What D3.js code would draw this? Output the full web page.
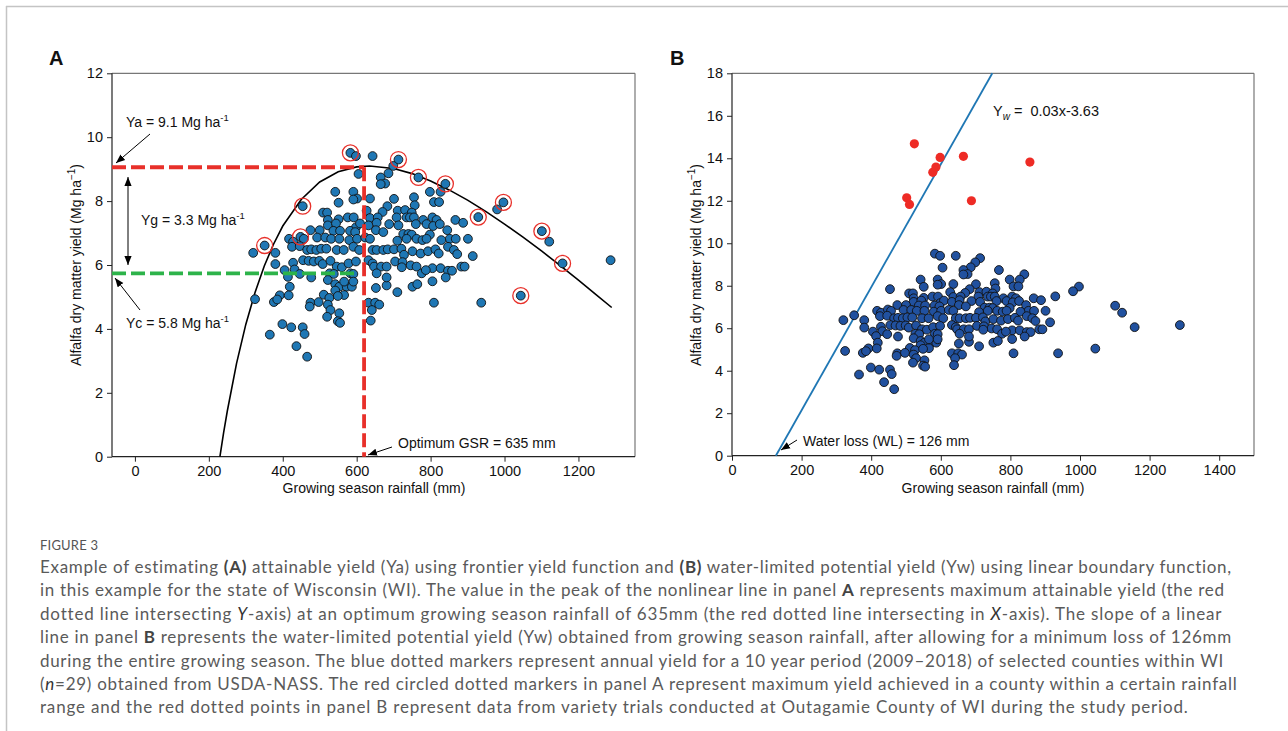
<!DOCTYPE html>
<html><head><meta charset="utf-8">
<script src="https://cdn.jsdelivr.net/npm/d3@7"></script>
<style>body{margin:0;background:#fff} svg{display:block}</style>
</head><body><svg id="c" width="1288" height="731"></svg>
<script>
// ---------- DATA ----------
const rainfall = [583,598,643,713,699,686,605,767,665,677,665,840,827,798,542,591,601,591,636,701,755,551,809,823,997,980,454,683,757,
509,520,627,670,711,731,749,522,551,576,592,636,657,708,735,744,755,780,805,816,867,888,929,522,544,598,609,632,654,688,713,760,789,807,825,845,
475,500,537,555,582,596,652,672,726,740,749,798,852,868,901,417,428,448,457,493,515,531,553,580,601,623,636,710,735,762,778,789,829,1101,1121,
351,320,380,425,446,466,477,491,504,518,546,565,591,607,643,654,672,684,701,721,728,751,773,793,813,822,847,863,872,914,
380,405,428,432,455,470,484,499,508,529,546,560,578,598,632,643,647,666,681,704,724,746,762,776,805,827,847,858,883,892,414,446,477,527,538,583,591,654,1157,1287,787,722,
419,522,542,553,573,587,542,652,681,751,764,805,841,511,710,566,566,591,681,1044,
392,416,376,385,475,497,526,522,549,632,650,661,641,809,937,473,529,553,325,
520,549,555,638,399,423,454,459,365,437,466];
const yieldObs = [9.51,9.41,9.41,9.30,9.10,8.87,8.85,8.74,8.74,8.55,8.53,8.54,8.29,8.29,8.29,8.29,8.08,8.05,8.08,8.07,8.12,7.95,7.97,7.97,7.96,7.74,7.84,7.84,7.87,
7.64,7.64,7.70,7.66,7.70,7.72,7.64,7.41,7.43,7.49,7.49,7.47,7.49,7.49,7.49,7.49,7.49,7.41,7.49,7.41,7.41,7.32,7.50,7.24,7.30,7.18,7.30,7.24,7.32,7.28,7.24,7.28,7.28,7.22,7.28,7.09,
7.09,7.09,7.07,7.07,7.07,7.03,7.09,7.03,6.97,6.97,6.95,6.95,6.82,6.82,6.82,6.82,6.73,6.88,6.82,6.86,6.86,6.82,6.82,6.78,6.82,6.86,6.82,6.76,6.82,6.82,6.78,6.82,6.78,7.06,6.73,
6.61,6.38,6.38,6.57,6.59,6.47,6.49,6.47,6.51,6.51,6.47,6.47,6.57,6.47,6.47,6.47,6.47,6.49,6.49,6.51,6.32,6.43,6.36,6.43,6.49,6.36,6.57,6.47,6.34,6.28,
6.03,5.84,6.07,5.86,6.15,6.13,6.11,6.13,6.03,6.13,5.95,5.93,6.05,6.11,6.15,6.05,5.95,5.95,5.95,6.11,6.09,5.99,5.95,5.74,5.90,5.90,5.82,5.82,5.95,5.95,5.63,5.72,5.61,5.74,5.72,5.74,5.72,5.74,6.05,6.15,5.84,5.93,
5.32,5.53,5.40,5.32,5.32,5.32,5.20,5.28,5.36,5.32,5.40,5.49,5.61,5.07,5.15,5.06,5.48,5.48,5.61,5.04,
5.05,5.05,4.84,4.92,4.82,4.84,4.97,4.76,5.03,4.82,4.82,4.76,4.59,4.82,4.82,4.70,4.59,4.49,4.93,
4.38,4.24,4.19,4.26,4.15,4.05,4.05,3.84,3.82,3.46,3.13];

// county maxima circled in panel A
const circRain  = [351,448,454,583,713,767,840,929,997,1101,1157,1044];
const circYield = [6.61,6.88,7.84,9.51,9.30,8.74,8.54,7.50,7.96,7.06,6.05,5.04];

// frontier yield curve (panel A)
const curveRain  = [230,240,250,275,300,325,350,375,400,450,500,550,600,635,700,750,800,850,900,950,1000,1050,1100,1150,1200,1250,1290];
const curveYield = [0.00,0.75,1.43,2.92,4.14,5.14,5.97,6.65,7.22,8.05,8.60,8.92,9.07,9.10,9.02,8.86,8.63,8.35,8.03,7.67,7.28,6.87,6.44,5.99,5.53,5.05,4.67];

// variety trials (panel B)
const trialRain  = [502,510,524,577,586,598,665,688,856];
const trialYield = [12.14,11.83,14.68,13.34,13.59,14.04,14.09,12.00,13.82];

// linear boundary (panel B)
const boundRain  = [126,748];
const boundYield = [0,18];

// reference values (panel A)
const Ya = 9.06, Yc = 5.74, optGSR = 620;

const xTicksA = [0,200,400,600,800,1000,1200];
const yTicksA = [0,2,4,6,8,10,12];
const xTicksB = [0,200,400,600,800,1000,1200,1400];
const yTicksB = [0,2,4,6,8,10,12,14,16,18];

// ---------- DRAW ----------
const svg = d3.select('#c');
const F = '"Liberation Sans", Arial, sans-serif';

svg.append('line').attr('x1',6).attr('x2',1288).attr('y1',6.5).attr('y2',6.5).attr('stroke','#c4c4c4').attr('stroke-width',1.5);
svg.append('line').attr('x1',6.5).attr('x2',6.5).attr('y1',6).attr('y2',731).attr('stroke','#c4c4c4').attr('stroke-width',1.5);

const defs = svg.append('defs');
defs.append('marker').attr('id','ah').attr('viewBox','0 0 10 10').attr('refX',10).attr('refY',5)
  .attr('markerWidth',9).attr('markerHeight',9).attr('markerUnits','userSpaceOnUse').attr('orient','auto-start-reverse')
  .append('path').attr('d','M0,1 L10,5 L0,9 z').attr('fill','#000');

const xA = d3.scaleLinear().domain([-62,1353]).range([112,635]);
const yA = d3.scaleLinear().domain([0,12]).range([456.7,73.3]);
const xB = d3.scaleLinear().domain([0,1500]).range([732,1254]);
const yB = d3.scaleLinear().domain([0,18]).range([455.7,73.3]);

function axes(x, y, xt, yt){
  const gx = svg.append('g').attr('transform',`translate(0,${y.range()[0]})`)
    .call(d3.axisBottom(x).tickValues(xt).tickSize(5).tickPadding(4).tickFormat(d3.format('d')));
  const gy = svg.append('g').attr('transform',`translate(${x.range()[0]},0)`)
    .call(d3.axisLeft(y).tickValues(yt).tickSize(5).tickPadding(4).tickFormat(d3.format('d')));
  [gx,gy].forEach(g=>{
    g.attr('font-size',null).attr('font-family',null);
    g.select('.domain').remove();
    g.selectAll('line').attr('stroke','#222').attr('stroke-width',1);
    g.selectAll('text').attr('font-family',F).attr('font-size',14.5).attr('fill','#111');
  });
  const [x0,x1] = x.range(), [y0,y1] = y.range();
  svg.append('line').attr('x1',x0).attr('x2',x1).attr('y1',y1).attr('y2',y1).attr('stroke','#777').attr('stroke-width',1.2);
  svg.append('line').attr('x1',x1).attr('x2',x1).attr('y1',y1).attr('y2',y0).attr('stroke','#777').attr('stroke-width',1.2);
  svg.append('line').attr('x1',x0).attr('x2',x1).attr('y1',y0).attr('y2',y0).attr('stroke','#222').attr('stroke-width',1.2);
  svg.append('line').attr('x1',x0).attr('x2',x0).attr('y1',y1).attr('y2',y0).attr('stroke','#222').attr('stroke-width',1.2);
}

function txt(x,y,str,size,opts={}){
  const t = svg.append('text').attr('x',x).attr('y',y).attr('font-family',F).attr('font-size',size).attr('fill','#111');
  if(opts.anchor) t.attr('text-anchor',opts.anchor);
  if(opts.weight) t.attr('font-weight',opts.weight);
  if(opts.rotate) t.attr('transform',`rotate(-90,${x},${y})`);
  t.text(str);
  return t;
}
function sup(t, s, size){
  t.append('tspan').attr('dy',-6).attr('font-size',size).text(s);
}
function arrow(x1,y1,x2,y2,both){
  const l = svg.append('line').attr('x1',x1).attr('y1',y1).attr('x2',x2).attr('y2',y2)
    .attr('stroke','#000').attr('stroke-width',1).attr('marker-end','url(#ah)');
  if(both) l.attr('marker-start','url(#ah)');
}
function ylab(x){
  const t = txt(x,265,'Alfalfa dry matter yield (Mg ha',14,{anchor:'middle',rotate:true});
  t.attr('dominant-baseline','central');
  t.append('tspan').attr('dy',-5).attr('font-size',10).text('−1');
  t.append('tspan').attr('dy',5).text(')');
}

// ---- Panel A ----
axes(xA,yA,xTicksA,yTicksA);
txt(49,65,'A',20,{weight:'bold'});
ylab(76);
txt(374,493,'Growing season rainfall (mm)',14,{anchor:'middle'});

const lineA = d3.line().x((d,i)=>xA(curveRain[i])).y((d,i)=>yA(curveYield[i]));
svg.append('path').attr('d',lineA(curveRain)).attr('fill','none').attr('stroke','#000').attr('stroke-width',1.6);

svg.append('g').selectAll('circle').data(rainfall).join('circle')
  .attr('cx',(d,i)=>xA(rainfall[i])).attr('cy',(d,i)=>yA(yieldObs[i])).attr('r',4.4)
  .attr('fill','#1f77b4').attr('stroke','#111').attr('stroke-width',0.9);

svg.append('g').selectAll('circle').data(circRain).join('circle')
  .attr('cx',(d,i)=>xA(circRain[i])).attr('cy',(d,i)=>yA(circYield[i])).attr('r',8)
  .attr('fill','none').attr('stroke','#e8302a').attr('stroke-width',1.3);

svg.append('line').attr('x1',xA.range()[0]).attr('x2',xA(optGSR)).attr('y1',yA(Ya)).attr('y2',yA(Ya))
  .attr('stroke','#e8302a').attr('stroke-width',3.8).attr('stroke-dasharray','14,5');
svg.append('line').attr('x1',xA(optGSR)).attr('x2',xA(optGSR)).attr('y1',yA(Ya)).attr('y2',yA(0))
  .attr('stroke','#e8302a').attr('stroke-width',3.8).attr('stroke-dasharray','14,5');
svg.append('line').attr('x1',xA.range()[0]).attr('x2',xA(600)).attr('y1',yA(Yc)).attr('y2',yA(Yc))
  .attr('stroke','#2db34a').attr('stroke-width',3.8).attr('stroke-dasharray','14,5');

arrow(128,177,128,265,true);
{ const t = txt(126,127,'Ya = 9.1 Mg ha',14); sup(t,'-1',9.5); }
arrow(150,134,116,163);
{ const t = txt(141,225,'Yg = 3.3 Mg ha',14); sup(t,'-1',9.5); }
{ const t = txt(126,328,'Yc = 5.8 Mg ha',14); sup(t,'-1',9.5); }
arrow(140,310,115,278);
txt(398,448,'Optimum GSR = 635 mm',14);
arrow(392,447,368,455);

// ---- Panel B ----
axes(xB,yB,xTicksB,yTicksB);
txt(670,65,'B',20,{weight:'bold'});
ylab(696);
txt(993,493,'Growing season rainfall (mm)',14,{anchor:'middle'});

const lineB = d3.line().x((d,i)=>xB(boundRain[i])).y((d,i)=>yB(boundYield[i]));
svg.append('path').attr('d',lineB(boundRain)).attr('fill','none').attr('stroke','#1f77b4').attr('stroke-width',1.8);

svg.append('g').selectAll('circle').data(rainfall).join('circle')
  .attr('cx',(d,i)=>xB(rainfall[i])).attr('cy',(d,i)=>yB(yieldObs[i])).attr('r',4.4)
  .attr('fill','#21519f').attr('stroke','#111').attr('stroke-width',0.9);
svg.append('g').selectAll('circle').data(trialRain).join('circle')
  .attr('cx',(d,i)=>xB(trialRain[i])).attr('cy',(d,i)=>yB(trialYield[i])).attr('r',4.6)
  .attr('fill','#ee2b25');

{
  const t = txt(993,116,'Y',14.5).style('white-space','pre');
  t.append('tspan').attr('dy',4).attr('font-size',10).attr('font-style','italic').text('w');
  t.append('tspan').attr('dy',-4).text(' =\u00a0 0.03x-3.63');
}
txt(803,446,'Water loss (WL) = 126 mm',14);
arrow(797,440,781,450);

// ---- Caption ----
const CF = 'Lato, "Open Sans", sans-serif';
svg.append('text').attr('x',40).attr('y',550).attr('font-family',CF).attr('font-size',13)
  .attr('letter-spacing',0.2).attr('fill','#555').text('FIGURE 3');
const cap = [
 [["Example of estimating "],["(A)","b"],[" attainable yield (Ya) using frontier yield function and "],["(B)","b"],[" water-limited potential yield (Yw) using linear boundary function,"]],
 [["in this example for the state of Wisconsin (WI). The value in the peak of the nonlinear line in panel "],["A","b"],[" represents maximum attainable yield (the red"]],
 [["dotted line intersecting "],["Y","i"],["-axis) at an optimum growing season rainfall of 635mm (the red dotted line intersecting in "],["X","i"],["-axis). The slope of a linear"]],
 [["line in panel "],["B","b"],[" represents the water-limited potential yield (Yw) obtained from growing season rainfall, after allowing for a minimum loss of 126mm"]],
 [["during the entire growing season. The blue dotted markers represent annual yield for a 10 year period (2009–2018) of selected counties within WI"]],
 [["("],["n","i"],["=29) obtained from USDA-NASS. The red circled dotted markers in panel A represent maximum yield achieved in a county within a certain rainfall"]],
 [["range and the red dotted points in panel B represent data from variety trials conducted at Outagamie County of WI during the study period."]]
];
const capEnds = [1233,1224,1222,1232,1224,1237,1188];
cap.forEach((segs,li)=>{
  const t = svg.append('text').attr('x',40).attr('y',573+li*23.4).attr('font-family',CF).attr('font-size',17).attr('fill','#5a5a5a');
  segs.forEach(s=>{
    const ts = t.append('tspan').text(s[0]);
    if(s[1]==='b') ts.attr('font-weight','bold').attr('fill','#444');
    if(s[1]==='i') ts.attr('font-style','italic').attr('fill','#333');
  });
  const w = t.node().getComputedTextLength();
  const n = segs.map(s=>s[0]).join('').length;
  const target = capEnds[li]-40;
  t.attr('letter-spacing', ((target-w)/n).toFixed(3));
});
</script></body></html>
